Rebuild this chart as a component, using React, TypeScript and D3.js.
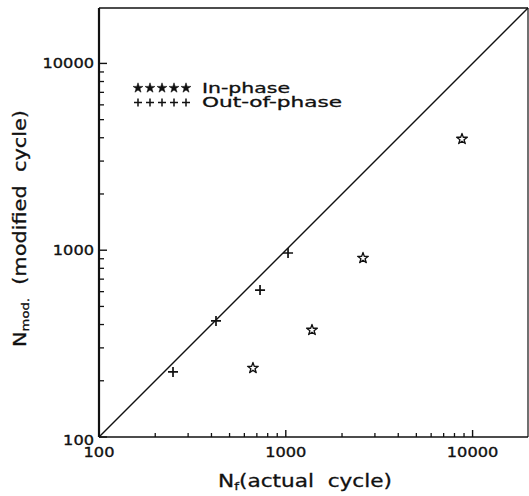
import React from "react";
import * as d3 from "d3";

const inPhaseX = [667, 1381, 2590, 8775];
const inPhaseY = [234, 374, 908, 3938];
const outPhaseX = [249, 423, 728, 1028];
const outPhaseY = [223, 418, 612, 966];
const majorTicks = [100, 1000, 10000];
const majorLabels = ["100", "1000", "10000"];
const minorTicks = [200, 300, 400, 500, 600, 700, 800, 900, 2000, 3000, 4000, 5000, 6000, 7000, 8000, 9000];
const legendLabels = ["In-phase", "Out-of-phase"];
const domainMax = 19800;

const W = 529, H = 496;
const L = 99, R = 528, T = 8, B = 437;
const FONT = "DejaVu Sans, sans-serif";

export default function App() {
  const x = d3.scaleLog().domain([100, domainMax]).range([L, R]);
  const y = d3.scaleLog().domain([100, domainMax]).range([B, T]);
  const starPath = d3.symbol(d3.symbolStar, 36)() as string;
  const starFilled = d3.symbol(d3.symbolStar, 30)() as string;
  const plusPath = (s: number) => `M${-s},0H${s}M0,${-s}V${s}`;
  const diag = d3.line<number>().x((d) => x(d)).y((d) => y(d))([100, domainMax]) as string;
  const labelW = (s: string) => s.length * 10.3;

  return (
    <svg width={W} height={H} style={{ position: "absolute", left: 0, top: 0, background: "#fff" }}>
      <rect x={0} y={0} width={W} height={H} fill="#fff" />
      {/* frame */}
      <line x1={L} x2={R} y1={T} y2={T} stroke="#111" strokeWidth={1.5} />
      <line x1={R} x2={R} y1={T} y2={B} stroke="#111" strokeWidth={1.2} />
      <line x1={L} x2={L} y1={T} y2={B} stroke="#111" strokeWidth={2.2} />
      <line x1={L} x2={R} y1={B} y2={B} stroke="#111" strokeWidth={1.6} />
      {/* ticks */}
      {majorTicks.map((t) => (
        <g key={"M" + t}>
          <line x1={x(t)} x2={x(t)} y1={B} y2={B - 7} stroke="#111" strokeWidth={1.4} />
          <line x1={L} x2={L + 8} y1={y(t)} y2={y(t)} stroke="#111" strokeWidth={1.4} />
        </g>
      ))}
      {minorTicks.map((t) => (
        <g key={"m" + t}>
          <line x1={x(t)} x2={x(t)} y1={B} y2={B - 4} stroke="#111" strokeWidth={1.3} />
          <line x1={L} x2={L + 5} y1={y(t)} y2={y(t)} stroke="#111" strokeWidth={1.3} />
        </g>
      ))}
      {/* tick labels */}
      {majorTicks.map((t, i) => (
        <g key={"l" + t} fontFamily={FONT} fontSize={14.5} fill="#111" stroke="#111" strokeWidth={0.35}>
          <text x={x(t)} y={457} textAnchor="middle" textLength={labelW(majorLabels[i])} lengthAdjust="spacingAndGlyphs">{majorLabels[i]}</text>
          <text x={94} y={y(t) + 5 + (i === 0 ? 3 : 0)} textAnchor="end" textLength={labelW(majorLabels[i])} lengthAdjust="spacingAndGlyphs">{majorLabels[i]}</text>
        </g>
      ))}
      {/* diagonal */}
      <path d={diag} fill="none" stroke="#111" strokeWidth={1.4} />
      {/* points */}
      {outPhaseX.map((v, i) => (
        <path key={"o" + i} d={plusPath(5)} transform={`translate(${x(v)},${y(outPhaseY[i])})`} stroke="#111" strokeWidth={1.7} fill="none" />
      ))}
      {inPhaseX.map((v, i) => (
        <path key={"s" + i} d={starPath} transform={`translate(${x(v)},${y(inPhaseY[i])})`} stroke="#111" strokeWidth={1.3} strokeLinejoin="round" fill="none" />
      ))}
      {/* legend */}
      {legendLabels.map((lab, li) => (
        <g key={lab}>
          {[0, 1, 2, 3, 4].map((k) => (
            <path
              key={k}
              d={li === 0 ? starFilled : plusPath(4)}
              transform={`translate(${138 + k * 12},${88 + li * 14.5})`}
              fill={li === 0 ? "#111" : "none"}
              stroke="#111"
              strokeWidth={li === 0 ? 0.6 : 1.5}
            />
          ))}
          <text x={202} y={92.5 + li * 14.5} fontFamily={FONT} fontSize={13.5} fill="#111" stroke="#111" strokeWidth={0.3}
            textLength={li === 0 ? 88 : 140} lengthAdjust="spacingAndGlyphs">{lab}</text>
        </g>
      ))}
      {/* axis titles */}
      <text x={218} y={487} fontFamily={FONT} fontSize={17.5} fill="#111" stroke="#111" strokeWidth={0.3} textLength={174} lengthAdjust="spacingAndGlyphs" style={{ whiteSpace: "pre" }}>
        N<tspan fontSize={11} dy={3}>f</tspan><tspan dy={-3}>{"(actual  cycle)"}</tspan>
      </text>
      <text transform="translate(26,347) rotate(-90)" x={0} y={0} fontFamily={FONT} fontSize={17.5} fill="#111" stroke="#111" strokeWidth={0.3} textLength={237} lengthAdjust="spacingAndGlyphs" style={{ whiteSpace: "pre" }}>
        N<tspan fontSize={11} dy={3}>mod.</tspan><tspan dy={-3}>{"  (modified  cycle)"}</tspan>
      </text>
    </svg>
  );
}
